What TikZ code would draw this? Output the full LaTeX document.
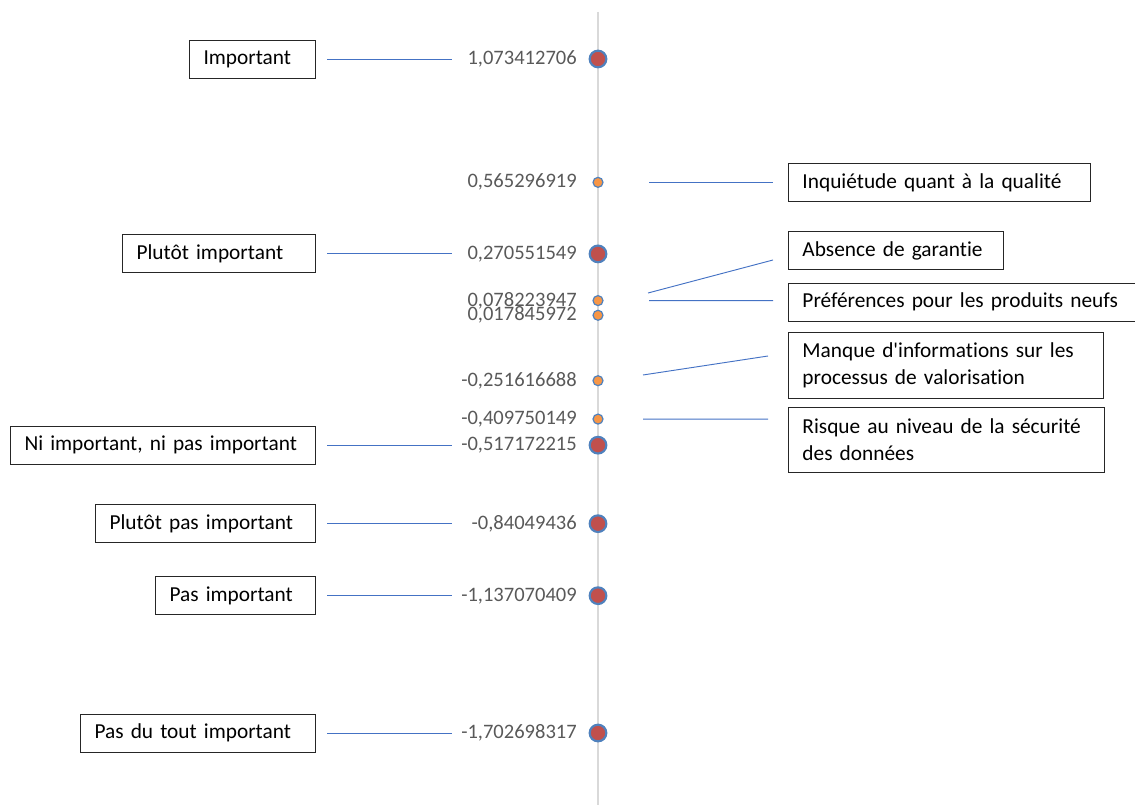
\documentclass[tikz,border=0pt]{standalone}
\usepackage{fontspec}
\setmainfont{Carlito}[Ligatures={TeXOff,CommonOff}]
\usepackage{tikz}
\usetikzlibrary{positioning}
\definecolor{dotred}{HTML}{C0504D}
\definecolor{dotorange}{HTML}{F79646}
\definecolor{dotrim}{HTML}{4F81BD}
\definecolor{leadblue}{HTML}{4472C4}
\definecolor{axisgray}{HTML}{D9D9D9}
\definecolor{numgray}{HTML}{595959}

\begin{document}
\begin{tikzpicture}[x=0.75pt,y=-0.75pt]
\tikzstyle{big} = [circle,fill=dotred,draw=dotrim,line width=1.6pt,minimum size=12.5pt,inner sep=0pt]
\tikzstyle{small} = [circle,fill=dotorange,draw=dotrim,line width=0.9pt,minimum size=7.5pt,inner sep=0pt]
\tikzstyle{num} = [inner sep=0pt,text=numgray,font=\fontsize{15.4}{18}\selectfont]
\tikzstyle{lbox} = [draw=black!85,line width=0.7pt,inner xsep=10.5pt,align=left,minimum height=28.5pt,font=\fontsize{16}{20}\selectfont]
\tikzstyle{leader} = [draw=leadblue,line width=0.7pt]
\useasboundingbox (0,0) rectangle (1135,805);
% axis
\draw[axisgray,line width=2.2pt] (598,12) -- (598,805);
% levels (big dots)
\node[big] (d1) at (598,{319.6-242.8*1.073412706}) {};
\node[big] (d2) at (598,{319.6-242.8*0.270551549}) {};
\node[big] (d3) at (598,{319.6-242.8*(-0.517172215)}) {};
\node[big] (d4) at (598,{319.6-242.8*(-0.84049436)}) {};
\node[big] (d5) at (598,{319.6-242.8*(-1.137070409)}) {};
\node[big] (d6) at (598,{319.6-242.8*(-1.702698317)}) {};
% obstacles (small dots)
\node[small] (o1) at (598,{319.6-242.8*0.565296919}) {};
\node[small] (o2) at (598,{319.6-242.8*0.078223947}) {};
\node[small] (o3) at (598,{319.6-242.8*0.017845972}) {};
\node[small] (o4) at (598,{319.6-242.8*(-0.251616688)}) {};
\node[small] (o5) at (598,{319.6-242.8*(-0.409750149)}) {};
% values
\node[num,left=15.75pt of d1.center] (n1) {1,073412706};
\node[num,left=15.75pt of o1.center] (m1) {0,565296919};
\node[num,left=15.75pt of d2.center] (n2) {0,270551549};
\node[num,left=15.75pt of o2.center] (m2) {0,078223947};
\node[num,left=15.75pt of o3.center] (m3) {0,017845972};
\node[num,left=15.75pt of o4.center] (m4) {-0,251616688};
\node[num,left=15.75pt of o5.center] (m5) {-0,409750149};
\node[num,left=15.75pt of d3.center] (n3) {-0,517172215};
\node[num,left=15.75pt of d4.center] (n4) {-0,84049436};
\node[num,left=15.75pt of d5.center] (n5) {-1,137070409};
\node[num,left=15.75pt of d6.center] (n6) {-1,702698317};
% left boxes
\node[lbox,text width=73.5pt,left=211.5pt of d1.center] (imp) {Important};
\node[lbox,text width=123.75pt,left=211.5pt of d2.center] (plimp) {Plutôt important};
\node[lbox,text width=207.75pt,left=211.5pt of d3.center] (niimp) {Ni important, ni pas important};
\node[lbox,text width=144pt,left=211.5pt of d4.center] (plpas) {Plutôt pas important};
\node[lbox,text width=99pt,left=211.5pt of d5.center] (pasimp) {Pas important};
\node[lbox,text width=155.25pt,left=211.5pt of d6.center] (pdtout) {Pas du tout important};
% right boxes
\node[lbox,text width=205.5pt,right=142.5pt of o1.center] (inq) {Inquiétude quant à la qualité};
\node[lbox,text width=140.25pt,anchor=west] (abs) at (788,250.5) {Absence de garantie};
\node[lbox,text width=249pt,anchor=west] (pref) at (788,302) {Préférences pour les produits neufs};
\node[lbox,text width=215.25pt,minimum height=49.5pt,anchor=west] (manq) at (788,365.5) {Manque d'informations sur les\\processus de valorisation};
\node[lbox,text width=216pt,minimum height=48.75pt,anchor=west] (risq) at (788,439.5) {Risque au niveau de la sécurité\\des données};
% leaders
\draw[leader] ([xshift=8.25pt]imp.east) -- ([xshift=-109.5pt]d1.center);
\draw[leader] ([xshift=8.25pt]plimp.east) -- ([xshift=-109.5pt]d2.center);
\draw[leader] ([xshift=8.25pt]niimp.east) -- ([xshift=-109.5pt]d3.center);
\draw[leader] ([xshift=8.25pt]plpas.east) -- ([xshift=-109.5pt]d4.center);
\draw[leader] ([xshift=8.25pt]pasimp.east) -- ([xshift=-109.5pt]d5.center);
\draw[leader] ([xshift=8.25pt]pdtout.east) -- ([xshift=-109.5pt]d6.center);
\draw[leader] ([shift={(51,0)}]o1.center) -- ([shift={(-15,0)}]inq.west);
\draw[leader] ([shift={(50,-7.6)}]o2.center) -- ([shift={(-15,9.5)}]abs.west);
\draw[leader] ([shift={(51,0)}]o2.center) -- ([shift={(-15,-1.4)}]pref.west);
\draw[leader] ([shift={(45,-5.7)}]o4.center) -- ([shift={(-20,-9.5)}]manq.west);
\draw[leader] ([shift={(45,0)}]o5.center) -- ([shift={(-20,-20.4)}]risq.west);
\end{tikzpicture}
\end{document}
